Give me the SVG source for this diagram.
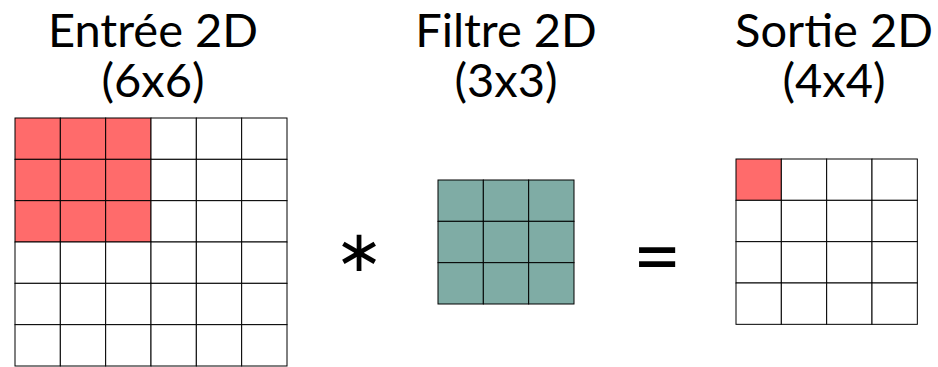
<svg xmlns="http://www.w3.org/2000/svg" width="938" height="367" viewBox="0 0 938 367">
<style>
text{font-family:Lato,"Noto Sans","Liberation Sans",sans-serif;fill:#000;text-anchor:middle}
.t{font-size:47px}
.c{fill:#fff;stroke:#000;stroke-width:1}
.r{fill:#FF6B6B}
.g{fill:#7FACA5}
</style>
<defs>
<rect id="cell" width="45.33" height="41.33"/>
</defs>
<g id="titles">
<text class="t" x="153" y="47">Entrée 2D<tspan x="153" dy="50">(6x6)</tspan></text>
<text class="t" x="506" y="47">Filtre 2D<tspan x="506" dy="50">(3x3)</tspan></text>
<text class="t" x="834" y="47">Sortie 2D<tspan x="834" dy="50">(4x4)</tspan></text>
</g>
<g id="input">
<g class="c">
<use href="#cell" x="15" y="118" class="r"/><use href="#cell" x="60.33" y="118" class="r"/><use href="#cell" x="105.67" y="118" class="r"/><use href="#cell" x="151" y="118"/><use href="#cell" x="196.33" y="118"/><use href="#cell" x="241.67" y="118"/>
<use href="#cell" x="15" y="159.33" class="r"/><use href="#cell" x="60.33" y="159.33" class="r"/><use href="#cell" x="105.67" y="159.33" class="r"/><use href="#cell" x="151" y="159.33"/><use href="#cell" x="196.33" y="159.33"/><use href="#cell" x="241.67" y="159.33"/>
<use href="#cell" x="15" y="200.67" class="r"/><use href="#cell" x="60.33" y="200.67" class="r"/><use href="#cell" x="105.67" y="200.67" class="r"/><use href="#cell" x="151" y="200.67"/><use href="#cell" x="196.33" y="200.67"/><use href="#cell" x="241.67" y="200.67"/>
<use href="#cell" x="15" y="242"/><use href="#cell" x="60.33" y="242"/><use href="#cell" x="105.67" y="242"/><use href="#cell" x="151" y="242"/><use href="#cell" x="196.33" y="242"/><use href="#cell" x="241.67" y="242"/>
<use href="#cell" x="15" y="283.33"/><use href="#cell" x="60.33" y="283.33"/><use href="#cell" x="105.67" y="283.33"/><use href="#cell" x="151" y="283.33"/><use href="#cell" x="196.33" y="283.33"/><use href="#cell" x="241.67" y="283.33"/>
<use href="#cell" x="15" y="324.67"/><use href="#cell" x="60.33" y="324.67"/><use href="#cell" x="105.67" y="324.67"/><use href="#cell" x="151" y="324.67"/><use href="#cell" x="196.33" y="324.67"/><use href="#cell" x="241.67" y="324.67"/>
</g>
</g>
<g id="filter">
<g class="c g">
<use href="#cell" x="438" y="180"/><use href="#cell" x="483.33" y="180"/><use href="#cell" x="528.67" y="180"/>
<use href="#cell" x="438" y="221.33"/><use href="#cell" x="483.33" y="221.33"/><use href="#cell" x="528.67" y="221.33"/>
<use href="#cell" x="438" y="262.67"/><use href="#cell" x="483.33" y="262.67"/><use href="#cell" x="528.67" y="262.67"/>
</g>
</g>
<g id="output">
<g class="c">
<use href="#cell" x="736" y="159" class="r"/><use href="#cell" x="781.33" y="159"/><use href="#cell" x="826.67" y="159"/><use href="#cell" x="872" y="159"/>
<use href="#cell" x="736" y="200.33"/><use href="#cell" x="781.33" y="200.33"/><use href="#cell" x="826.67" y="200.33"/><use href="#cell" x="872" y="200.33"/>
<use href="#cell" x="736" y="241.67"/><use href="#cell" x="781.33" y="241.67"/><use href="#cell" x="826.67" y="241.67"/><use href="#cell" x="872" y="241.67"/>
<use href="#cell" x="736" y="283"/><use href="#cell" x="781.33" y="283"/><use href="#cell" x="826.67" y="283"/><use href="#cell" x="872" y="283"/>
</g>
</g>
<g id="operators">
<text x="359" y="271" style="font-size:58px;font-family:'DejaVu Sans',sans-serif">∗</text>
<text x="657" y="285" style="font-size:84px">=</text>
</g>
</svg>
